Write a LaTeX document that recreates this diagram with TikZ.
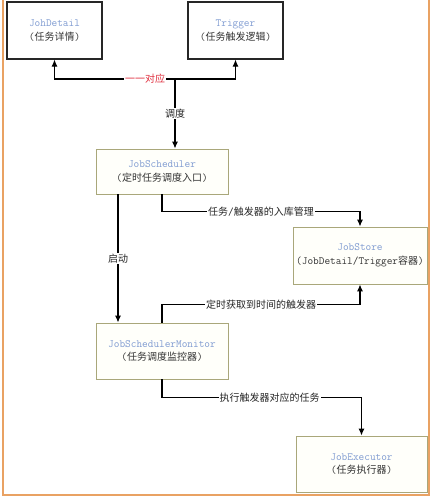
\documentclass[tikz,border=0pt]{standalone}
\usepackage{fontspec}
\newfontfamily\cjk{Noto Sans CJK SC}
\newcommand{\zh}[1]{{\cjk\fontsize{10}{13}\selectfont #1}}
\usetikzlibrary{arrows.meta}

\definecolor{olivebrown}{HTML}{A9A77A}
\definecolor{nameblue}{HTML}{7F9BD1}
\definecolor{framecol}{HTML}{E9A263}
\definecolor{ivory}{HTML}{FFFFFA}
\definecolor{pairred}{HTML}{E0303F}

\begin{document}
\begin{tikzpicture}[x=1pt,y=-1pt,
					box/.style={rectangle,draw,line width=0.9pt,align=center,inner sep=0pt,
						text=black!80,font=\ttfamily\fontsize{11}{13.5}\selectfont},
					plainbox/.style={box,draw=black!85,line width=1.1pt,minimum width=95pt,minimum height=57pt},
					olivebox/.style={box,draw=olivebrown,fill=ivory},
					link/.style={-{Latex[length=7pt,width=6pt]},line width=1.1pt},
					tag/.style={fill=white,inner sep=1pt,text=black!85,font=\ttfamily\fontsize{11}{12}\selectfont},
					]
					\useasboundingbox (0,0) rectangle (432,498);
					\draw[framecol,line width=2pt] (3,-3) -- (3,495) -- (429,495) -- (429,-3);
					% top row
					\node [plainbox] (detail) at (54.5,30.5) {\textcolor{nameblue}{JohDetail}\\(\zh{任务详情})};
					\node [plainbox] (trigger) at (235.5,30.5) {\textcolor{nameblue}{Trigger}\\(\zh{任务触发逻辑})};
					% scheduler and store
					\node [olivebox,minimum width=132pt,minimum height=45pt] (sched) at (162,171.5)
						{\textcolor{nameblue}{JobScheduler}\\(\zh{定时任务调度入口})};
					\node [olivebox,minimum width=134pt,minimum height=57pt] (store) at (360,255.5)
						{\textcolor{nameblue}{JobStore}\\(JobDetail/Trigger\zh{容器})};
					% monitor and executor
					\node [olivebox,minimum width=132pt,minimum height=56pt] (monitor) at (162,351)
						{\textcolor{nameblue}{JobSchedulerMonitor}\\(\zh{任务调度监控器})};
					\node [olivebox,minimum width=131pt,minimum height=56pt] (executor) at (361.5,464)
						{\textcolor{nameblue}{JobExecutor}\\(\zh{任务执行器})};
					\coordinate (hub) at (175,79);
					\draw[link] (hub) -| (detail.south);
					\draw[link] (hub) -| (trigger.south);
					\node [tag,text=pairred] (pair) at (145,79) {\zh{一一对应}};
					\draw[link] (hub) -- node[tag] (plan) {\zh{调度}} (hub |- sched.north);
					\draw[link] (sched.south) -- ++(0,17) -| node[tag,pos=0.25] (save) {\zh{任务}/\zh{触发器的入库管理}} (store.north);
					\draw[link] ([xshift=-44pt]sched.south) -- node[tag] (start) {\zh{启动}} ([xshift=-44pt]monitor.north);
					\draw[link] (monitor.north) -- ++(0,-18) -| node[tag,pos=0.25] (fetch) {\zh{定时获取到时间的触发器}} (store.south);
					\draw[link] (monitor.south) -- ++(0,18) -| node[tag,pos=0.27] (run) {\zh{执行触发器对应的任务}} (executor.north);
				\end{tikzpicture}
\end{document}
